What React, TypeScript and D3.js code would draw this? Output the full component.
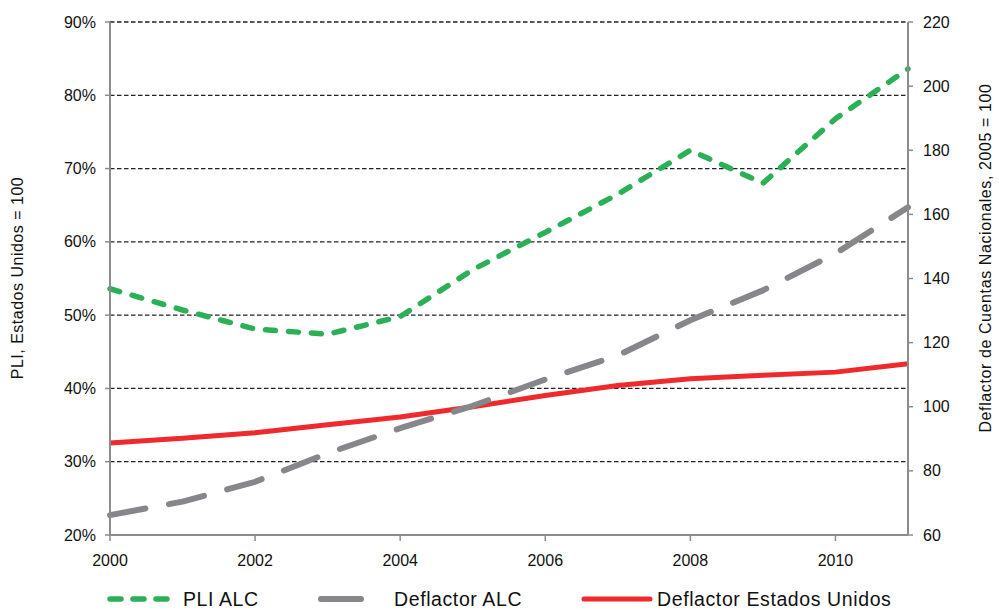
import React from "react";
import * as d3 from "d3";

const years = [2000, 2001, 2002, 2003, 2004, 2005, 2006, 2007, 2008, 2009, 2010, 2011];
const pliALC = [53.6, 50.7, 48.1, 47.4, 49.8, 56.2, 61.3, 66.5, 72.5, 68.0, 76.8, 83.6];
const deflactorALC = [66.2, 70.4, 76.6, 85.5, 93.3, 100.3, 108.5, 116.0, 127.0, 136.3, 147.8, 162.2];
const deflactorEEUU = [88.7, 90.2, 91.9, 94.4, 96.8, 100.0, 103.5, 106.6, 108.7, 109.8, 110.8, 113.4];
const leftTicks = [20, 30, 40, 50, 60, 70, 80, 90];
const rightTicks = [60, 80, 100, 120, 140, 160, 180, 200, 220];
const xTicks = [2000, 2002, 2004, 2006, 2008, 2010];

const W = 999;
const H = 610;
const L = 110, R = 908, T = 22, B = 535;
const FONT = "'Liberation Sans', Arial, sans-serif";

export default function App() {
  const x = d3.scaleLinear().domain([2000, 2011]).range([L, R]);
  const yL = d3.scaleLinear().domain([20, 90]).range([B, T]);
  const yR = d3.scaleLinear().domain([60, 220]).range([B, T]);

  const lineL = d3.line<number>().x((_, i) => x(years[i])).y((d) => yL(d));
  const lineR = d3.line<number>().x((_, i) => x(years[i])).y((d) => yR(d));

  const green = "#2bb058";
  const gray = "#87878b";
  const red = "#ee2a2c";
  const axis = "#8c8c90";

  return (
    <svg width={W} height={H} style={{ position: "absolute", left: 0, top: 0 }} fontFamily={FONT}>
      <rect width={W} height={H} fill="#fff" />
      {/* grid */}
      {leftTicks.filter((t) => t > 20).map((t) => (
        <line key={"g" + t} x1={L} x2={R} y1={yL(t)} y2={yL(t)} stroke="#222" strokeWidth={1.3} strokeDasharray="4.5 2.5" />
      ))}
      {/* lines */}
      <path d={lineR(deflactorEEUU) || ""} fill="none" stroke={red} strokeWidth={5} strokeLinejoin="round" />
      <path d={lineR(deflactorALC) || ""} fill="none" stroke={gray} strokeWidth={6} strokeDasharray="36 24" strokeLinecap="round" strokeLinejoin="round" />
      <path d={lineL(pliALC) || ""} fill="none" stroke={green} strokeWidth={5.5} strokeDasharray="10 13" strokeLinecap="round" strokeLinejoin="round" />
      {/* axes */}
      <line x1={L} x2={L} y1={T} y2={B} stroke={axis} strokeWidth={2} />
      <line x1={R} x2={R} y1={T} y2={B} stroke={axis} strokeWidth={2} />
      <line x1={L} x2={R} y1={B} y2={B} stroke={axis} strokeWidth={2} />
      {leftTicks.map((t) => (
        <g key={"l" + t}>
          <line x1={L - 5} x2={L} y1={yL(t)} y2={yL(t)} stroke={axis} strokeWidth={1.5} />
          <text x={96} y={yL(t)} dy="0.35em" textAnchor="end" fontSize={16} fill="#111">{t}%</text>
        </g>
      ))}
      {rightTicks.map((t) => (
        <g key={"r" + t}>
          <line x1={R} x2={R + 5} y1={yR(t)} y2={yR(t)} stroke={axis} strokeWidth={1.5} />
          <text x={923} y={yR(t)} dy="0.35em" textAnchor="start" fontSize={16} fill="#111">{t}</text>
        </g>
      ))}
      {xTicks.map((t) => (
        <g key={"x" + t}>
          <line x1={x(t)} x2={x(t)} y1={B} y2={B + 6} stroke={axis} strokeWidth={1.5} />
          <text x={x(t)} y={560} dy="0.35em" textAnchor="middle" fontSize={16} fill="#111">{t}</text>
        </g>
      ))}
      {/* axis titles */}
      <text transform={`translate(23,278) rotate(-90)`} textAnchor="middle" fontSize={16} letterSpacing={0.5} fill="#111">PLI, Estados Unidos = 100</text>
      <text transform={`translate(991,258) rotate(-90)`} textAnchor="middle" fontSize={16} letterSpacing={0.6} fill="#111">Deflactor de Cuentas Nacionales, 2005 = 100</text>
      {/* legend */}
      <line x1={110} x2={168} y1={599} y2={599} stroke={green} strokeWidth={5.5} strokeDasharray="11 12" strokeLinecap="round" />
      <text x={183} y={599} dy="0.35em" fontSize={19.5} letterSpacing={0.6} fill="#111">PLI ALC</text>
      <line x1={321} x2={361} y1={599} y2={599} stroke={gray} strokeWidth={6} strokeLinecap="round" />
      <text x={394} y={599} dy="0.35em" fontSize={19.5} letterSpacing={0.6} fill="#111">Deflactor ALC</text>
      <line x1={584} x2={650} y1={599} y2={599} stroke={red} strokeWidth={5} strokeLinecap="round" />
      <text x={657} y={599} dy="0.35em" fontSize={19.5} letterSpacing={0.6} fill="#111">Deflactor Estados Unidos</text>
    </svg>
  );
}
